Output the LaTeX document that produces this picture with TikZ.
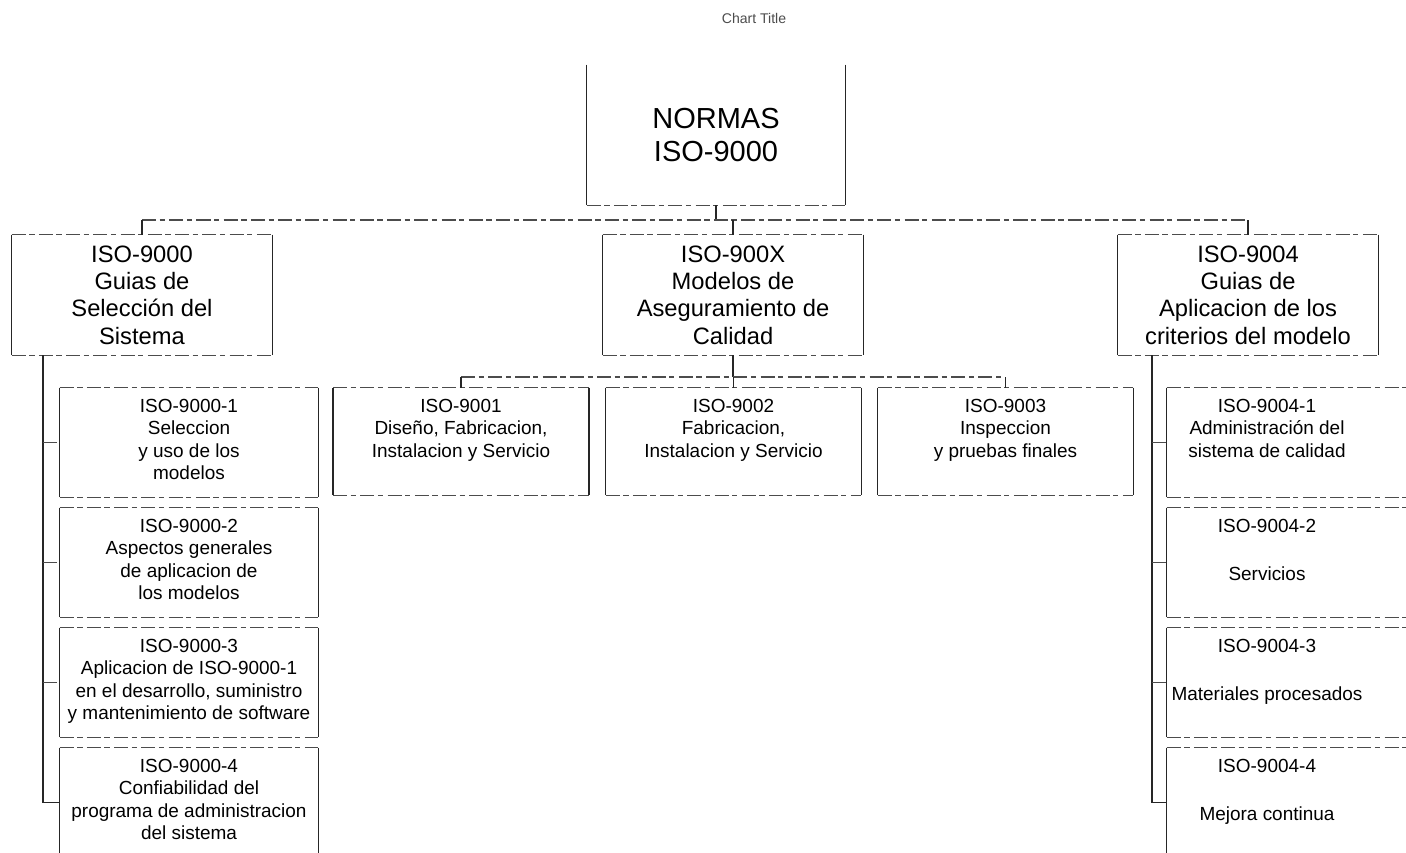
\documentclass[tikz,border=0pt]{standalone}
\usepackage{fontspec}
\setmainfont{Liberation Sans}
\tikzset{
  lado/.style={line width=0.8pt, black!85},
  borde/.style={line width=0.6pt, black!70, dash pattern=on 8pt off 2pt on 3pt off 2.5pt},
  caja/.style={rectangle, inner sep=0pt, minimum height=2.18cm, minimum width=5.16cm},
  txtA/.style={align=center, inner sep=0pt, font=\fontsize{16.5}{18.5}\selectfont},
  txtB/.style={align=center, inner sep=0pt, font=\fontsize{13.5}{15.5}\selectfont},
  txtC/.style={align=center, inner sep=0pt, anchor=north, font=\fontsize{10.8}{12.8}\selectfont},
}
\begin{document}
\begin{tikzpicture}[x=0.02cm, y=-0.02cm]
  \useasboundingbox (0,0) rectangle (1406,852);
  \node[font=\fontsize{8}{9}\selectfont, text=black!70] (titulo) at (754,18) {Chart Title};
  % raiz
  \node[caja, minimum width=5.16cm, minimum height=2.8cm, txtA] (raiz) at (716,135) {NORMAS\\ISO-9000};
  % segundo nivel
  \foreach \n/\xx/\txt in {g1/142/{ISO-9000\\Guias de\\Selección del\\Sistema},
                           g2/733/{ISO-900X\\Modelos de\\Aseguramiento de\\Calidad},
                           g3/1248/{ISO-9004\\Guias de\\Aplicacion de los\\criterios del modelo}}{
    \node[caja, minimum width=5.2cm, minimum height=2.4cm, txtB] (\n) at (\xx,295) {\txt};
  }
  % modelos
  \foreach \n/\xx/\txt in {m1/461/{ISO-9001\\Diseño, Fabricacion,\\Instalacion y Servicio},
                           m2/733.5/{ISO-9002\\Fabricacion,\\Instalacion y Servicio},
                           m3/1005.5/{ISO-9003\\Inspeccion\\y pruebas finales}}{
    \node[caja, minimum width=5.1cm, minimum height=2.14cm] (\n) at (\xx,441.5) {};
    \node[txtC] (t\n) at (\xx,398.5) {\txt};
  }
  % columna izquierda
  \foreach \i/\yy/\txt in {1/442.5/{ISO-9000-1\\Seleccion\\y uso de los\\modelos},
                           2/562.5/{ISO-9000-2\\Aspectos generales\\de aplicacion de\\los modelos},
                           3/682.5/{ISO-9000-3\\Aplicacion de ISO-9000-1\\en el desarrollo, suministro\\y mantenimiento de software},
                           4/802.5/{ISO-9000-4\\Confiabilidad del\\programa de administracion\\del sistema}}{
    \node[caja] (a\i) at (189,\yy) {};
    \node[txtC] (ta\i) at (189,\yy-44) {\txt};
  }
  % columna derecha
  \foreach \i/\yy/\txt in {1/442.5/{ISO-9004-1\\Administración del\\sistema de calidad},
                           2/562.5/{ISO-9004-2\\[15pt]Servicios},
                           3/682.5/{ISO-9004-3\\[15pt]Materiales procesados},
                           4/802.5/{ISO-9004-4\\[15pt]Mejora continua}}{
    \node[caja, minimum width=4.9cm] (b\i) at (1289.5,\yy) {};
    \node[txtC] (tb\i) at (1267,\yy-44) {\txt};
  }
  % bordes
  \draw[lado] (raiz.north west) -- (raiz.south west) (raiz.north east) -- (raiz.south east);
  \draw[borde] (raiz.south west) -- (raiz.south east);
  \foreach \n in {g1,g2,g3,m1,m2,m3,a1,a2,a3,a4,b1,b2,b3,b4}{
    \draw[lado] (\n.north west) -- (\n.south west) (\n.north east) -- (\n.south east);
    \draw[borde] (\n.north west) -- (\n.north east) (\n.south west) -- (\n.south east);
  }
  % conectores
  \coordinate (barra) at (716,220);
  \draw[lado] (raiz.south) -- (barra);
  \draw[borde] (g1.north |- barra) -- (g3.north |- barra);
  \foreach \n in {g1,g2,g3}
    \draw[lado] (\n.north |- barra) -- (\n.north);
  \coordinate (barra2) at (733,377);
  \draw[lado] (g2.south) -- (barra2);
  \draw[borde] (m1.north |- barra2) -- (m3.north |- barra2);
  \foreach \n in {m1,m2,m3}
    \draw[lado] (\n.north |- barra2) -- (\n.north);
  \coordinate (tronco1) at (43,0);
  \draw[lado] (g1.south -| tronco1) -- (a4.west -| tronco1) -- (a4.west);
  \coordinate (tronco2) at (1152,0);
  \draw[lado] (g3.south -| tronco2) -- (b4.west -| tronco2) -- (b4.west);
  \foreach \i in {1,2,3}{
    \draw[borde] (a\i.west -| tronco1) -- (a\i.west);
    \draw[borde] (b\i.west -| tronco2) -- (b\i.west);
  }
\end{tikzpicture}
\end{document}
